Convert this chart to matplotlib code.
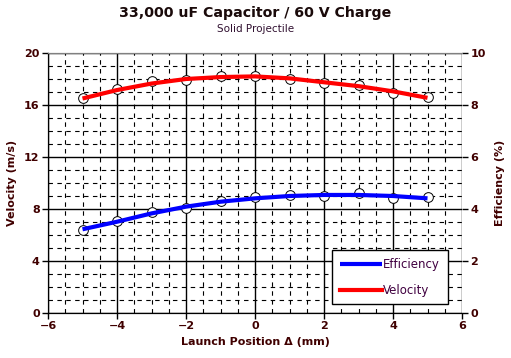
import matplotlib.pyplot as plt
import numpy as np
from matplotlib.ticker import MultipleLocator

plt.rcParams.update({
    "font.family": "DejaVu Sans",
    "font.size": 8,
})

# launch position (mm)
positions = [-5, -4, -3, -2, -1, 0, 1, 2, 3, 4, 5]

# measured points
velocity_pts = [16.55, 17.2, 17.85, 17.9, 18.2, 18.2, 18.0, 17.7, 17.55, 16.95, 16.65]
efficiency_pts = [3.19, 3.53, 3.9, 4.05, 4.32, 4.47, 4.54, 4.51, 4.6, 4.41, 4.45]

# trend lines
velocity_fit = [16.5, 17.15, 17.65, 18.0, 18.15, 18.2, 18.05, 17.75, 17.45, 17.05, 16.55]
efficiency_fit = [3.22, 3.51, 3.83, 4.09, 4.28, 4.41, 4.5, 4.54, 4.54, 4.5, 4.41]

label_color = '#400000'

fig = plt.figure(figsize=(5.11, 3.58), dpi=100)
ax = fig.add_axes([48 / 511, 1 - 313 / 358, (462 - 48) / 511, (313 - 53) / 358])
ax2 = ax.twinx()

ax.set_xlim(-6, 6)
ax.set_ylim(0, 20)
ax2.set_ylim(0, 10)

ax.xaxis.set_major_locator(MultipleLocator(2))
ax.xaxis.set_minor_locator(MultipleLocator(0.5))
ax.yaxis.set_major_locator(MultipleLocator(4))
ax.yaxis.set_minor_locator(MultipleLocator(1))
ax2.yaxis.set_major_locator(MultipleLocator(2))

ax.grid(which='minor', color='black', linestyle=(0, (4, 4)), linewidth=0.8)
ax.grid(which='major', color='black', linestyle='-', linewidth=1.0)
ax.set_axisbelow(True)

# markers under the lines
ax.plot(positions, velocity_pts, linestyle='none', marker='o', markersize=7,
        markerfacecolor='white', markeredgecolor='black', markeredgewidth=0.7, zorder=3)
ax.plot(positions, velocity_fit, color='#ff0000', linewidth=3, zorder=4,
        solid_capstyle='butt')

ax2.plot(positions, efficiency_pts, linestyle='none', marker='o', markersize=7,
         markerfacecolor='white', markeredgecolor='black', markeredgewidth=0.7, zorder=3)
eff_line, = ax2.plot(positions, efficiency_fit, color='#0000ff', linewidth=3, zorder=4,
                     solid_capstyle='butt', label='Efficiency')
vel_handle, = ax2.plot([], [], color='#ff0000', linewidth=3, label='Velocity')

for a in (ax, ax2):
    a.spines['top'].set_color('gray')
    a.spines['right'].set_visible(False)
    a.spines['left'].set_color('black')
    a.spines['bottom'].set_color('black')

ax.tick_params(which='minor', length=0)
ax.tick_params(which='major', length=4, width=1, direction='out',
               labelcolor=label_color, pad=2)
ax2.tick_params(which='major', length=4, width=1, direction='out',
                labelcolor=label_color, pad=2)
for lab in ax.get_xticklabels() + ax.get_yticklabels() + ax2.get_yticklabels():
    lab.set_fontweight('bold')

ax.set_xlabel('Launch Position Δ (mm)', fontweight='bold', color=label_color, labelpad=4)
ax.set_ylabel('Velocity (m/s)', fontweight='bold', color=label_color, labelpad=5)
ax2.set_ylabel('Efficiency (%)', fontweight='bold', color=label_color, labelpad=7)

fig.text(0.5, 1 - 13 / 358, '33,000 uF Capacitor / 60 V Charge', ha='center', va='center',
         fontsize=10.2, fontweight='bold', color='#1a0a0a')
fig.text(0.5, 1 - 29 / 358, 'Solid Projectile', ha='center', va='center',
         fontsize=7.5, color='#301030')

leg = ax2.legend(handles=[eff_line, vel_handle], loc='lower right',
                 bbox_to_anchor=(0.98, 0.01), frameon=True, fancybox=False,
                 edgecolor='black', framealpha=1.0, handlelength=3.6,
                 handletextpad=0.1, labelspacing=1.1, borderpad=0.65,
                 prop={'size': 8.5})
leg.get_frame().set_linewidth(1.0)
for t in leg.get_texts():
    t.set_color('#400040')

fig.savefig('out.png', dpi=100)
